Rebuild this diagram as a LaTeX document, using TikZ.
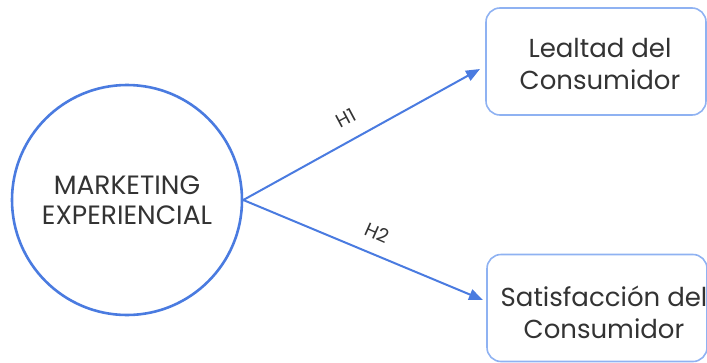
\documentclass[tikz,border=0pt]{standalone}
\usepackage{fontspec}
\setmainfont{Poppins}
\usetikzlibrary{arrows.meta}
\definecolor{lineblue}{HTML}{4A7BE0}
\definecolor{boxblue}{HTML}{8FB2F2}
\definecolor{txt}{HTML}{333333}
\tikzset{
  circ/.style={circle, draw=lineblue, line width=2.6pt, minimum size=230pt, inner sep=0pt, text=txt, font=\fontsize{26.5}{30}\selectfont, align=center},
  rbox/.style={draw=boxblue, line width=1.6pt, rounded corners=14pt, minimum width=220pt, minimum height=107pt},
  btxt/.style={text=txt, font=\fontsize{26}{32}\selectfont, align=center, inner sep=0pt},
  conn/.style={draw=lineblue, line width=2pt, -{Triangle[length=14pt,width=11pt]}},
  hlab/.style={text=txt, font=\fontsize{19}{20}\selectfont, inner sep=0pt}
}
\begin{document}
\begin{tikzpicture}[x=1pt,y=-1pt]
\useasboundingbox (0,0) rectangle (707,362);
\node[circ] (mk) at (127,200) {MARKETING\\EXPERIENCIAL};
\node[rbox] (lc) at (596,61.5) {};
\node[btxt] (lct) at (600,64) {Lealtad del\\Consumidor};
\node[rbox] (sc) at (597,308) {};
\node[btxt] (sct) at (604,312) {Satisfacción del\\Consumidor};
\coordinate (t1) at (480,69);
\coordinate (t2) at (483,300);
\draw[conn] (mk.east) -- (t1);
\draw[conn] (mk.east) -- (t2);
\node[hlab, rotate=28] (h1) at (346,118) {H1};
\node[hlab, rotate=-24] (h2) at (377,233) {H2};
\end{tikzpicture}
\end{document}
